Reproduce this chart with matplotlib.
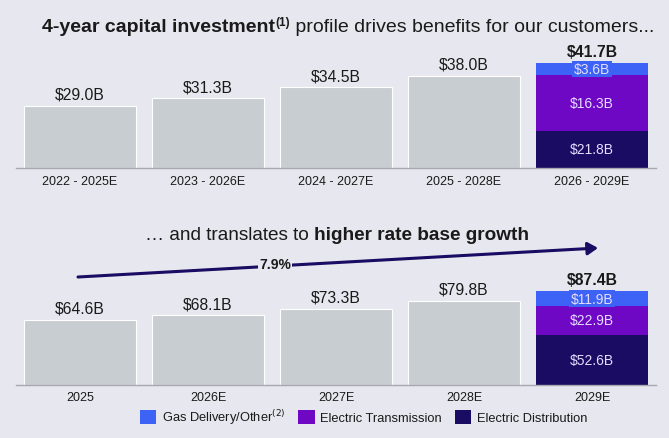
import matplotlib
matplotlib.use("Agg")
import matplotlib.pyplot as plt
from matplotlib.patches import Patch, FancyArrowPatch
import numpy as np

plt.rcParams['font.family'] = ['Liberation Sans', 'DejaVu Sans']

# data
capex_periods = ['2022 - 2025E', '2023 - 2026E', '2024 - 2027E', '2025 - 2028E', '2026 - 2029E']
capex_totals = [29.0, 31.3, 34.5, 38.0, 41.7]
capex_dist = 21.8
capex_trans = 16.3
capex_gas = 3.6

rb_years = ['2025', '2026E', '2027E', '2028E', '2029E']
rb_totals = [64.6, 68.1, 73.3, 79.8, 87.4]
rb_dist = 52.6
rb_trans = 22.9
rb_gas = 11.9

cagr_label = '7.9%'

BG = '#e7e7ef'
GREY = '#c8cdd2'
GAS = '#3c63f5'
TRANS = '#6e08c4'
DIST = '#1a0b63'
SEG_TXT = '#e6ddff'
W, H = 669, 439


def px_box(left, top, right, bottom):
    return [left / W, 1 - bottom / H, (right - left) / W, (bottom - top) / H]


def rich_text(fig, xc, y, parts):
    # parts: (text, size, weight, raise_px)
    r = fig.canvas.get_renderer()
    objs = []
    for s, size, weight, rise in parts:
        t = fig.text(0, y + rise / H, s, fontsize=size, fontweight=weight,
                     va='baseline', ha='left', color='#1a1a1a')
        objs.append(t)
    widths = [t.get_window_extent(r).width for t in objs]
    x = xc * W - sum(widths) / 2
    for t, w in zip(objs, widths):
        t.set_x(x / W)
        x += w


def bar_panel(ax, labels, totals, dist, trans, gas, ymin, ymax):
    x = np.arange(len(labels))
    heights = [v - ymin for v in totals[:-1]]
    ax.bar(x[:-1], heights, width=0.87, bottom=ymin, color=GREY,
           edgecolor='white', linewidth=0.8)
    # last bar stacked, drawn from the axis floor
    last = x[-1]
    ax.bar(last, dist - ymin, width=0.87, bottom=ymin, color=DIST)
    ax.bar(last, trans, width=0.87, bottom=dist, color=TRANS)
    ax.bar(last, gas, width=0.87, bottom=dist + trans, color=GAS)
    for xi, v in zip(x[:-1], totals[:-1]):
        ax.annotate(f'${v:.1f}B', (xi, v), xytext=(0, 3), textcoords='offset points',
                    ha='center', va='bottom', fontsize=11.3, color='#1a1a1a')
    ax.annotate(f'${totals[-1]:.1f}B', (last, dist + trans + gas), xytext=(0, 3),
                textcoords='offset points', ha='center', va='bottom',
                fontsize=11.3, fontweight='bold', color='#1a1a1a')
    ax.text(last, (ymin + dist) / 2, f'${dist:.1f}B', ha='center', va='center',
            fontsize=10, color=SEG_TXT)
    ax.text(last, dist + trans / 2, f'${trans:.1f}B', ha='center', va='center',
            fontsize=10, color=SEG_TXT)
    ax.text(last, dist + trans + gas / 2, f'${gas:.1f}B', ha='center', va='center',
            fontsize=10, color=SEG_TXT,
            bbox=dict(boxstyle='square,pad=0.1', fc=GAS, ec='none'))
    ax.set_xlim(-0.5, len(labels) - 0.5)
    ax.set_ylim(ymin, ymax)
    ax.set_xticks(x)
    ax.set_xticklabels(labels, fontsize=9, color='#1a1a1a')
    ax.tick_params(axis='x', length=0, pad=5)
    ax.set_yticks([])
    for s in ['top', 'left', 'right']:
        ax.spines[s].set_visible(False)
    ax.spines['bottom'].set_color('#a8a8b0')
    ax.spines['bottom'].set_linewidth(1)
    ax.set_facecolor('none')


fig = plt.figure(figsize=(W / 100, H / 100), dpi=100, facecolor=BG)

ax1 = fig.add_axes(px_box(16, 55, 656, 169))
bar_panel(ax1, capex_periods, capex_totals, capex_dist, capex_trans, capex_gas,
          10.8, 10.8 + 114 / 3.4)

ax2 = fig.add_axes(px_box(16, 285, 656, 385.5))
bar_panel(ax2, rb_years, rb_totals, rb_dist, rb_trans, rb_gas,
          12.3, 12.3 + 100.5 / 1.24)

fig.canvas.draw()
rich_text(fig, 0.52, 1 - 32 / H, [
    ('4-year capital investment', 14, 'bold', 0),
    ('(1)', 8.5, 'bold', 6),
    (' profile drives benefits for our customers...', 14, 'normal', 0),
])
rich_text(fig, 0.504, 1 - 240 / H, [
    ('\u2026 and translates to ', 13.7, 'normal', 0),
    ('higher rate base growth', 13.7, 'bold', 0),
])

# growth arrow
fig.add_artist(FancyArrowPatch(
    (78 / W, 1 - 278 / H), (598 / W, 1 - 249 / H), transform=fig.transFigure,
    arrowstyle='-|>,head_length=4,head_width=2.5', color=DIST, lw=2.2,
    mutation_scale=1.5, shrinkA=0, shrinkB=0))
fig.text(275 / W, 1 - 265 / H, cagr_label, ha='center', va='center', fontsize=10,
         fontweight='bold', color='#1a1a1a',
         bbox=dict(boxstyle='square,pad=0.05', fc=BG, ec='none'))

handles = [Patch(facecolor=GAS), Patch(facecolor=TRANS), Patch(facecolor=DIST)]
leg = fig.legend(handles, ['Gas Delivery/Other$^{(2)}$', 'Electric Transmission',
                           'Electric Distribution'],
                 loc='center', bbox_to_anchor=(0.543, 1 - 418 / H), ncol=3,
                 frameon=False, fontsize=9.3, handlelength=1.3, handleheight=1.3,
                 handletextpad=0.4, columnspacing=1.0)
for t in leg.get_texts():
    t.set_color('#1a1a1a')

fig.savefig('out.png', dpi=100, facecolor=BG)
